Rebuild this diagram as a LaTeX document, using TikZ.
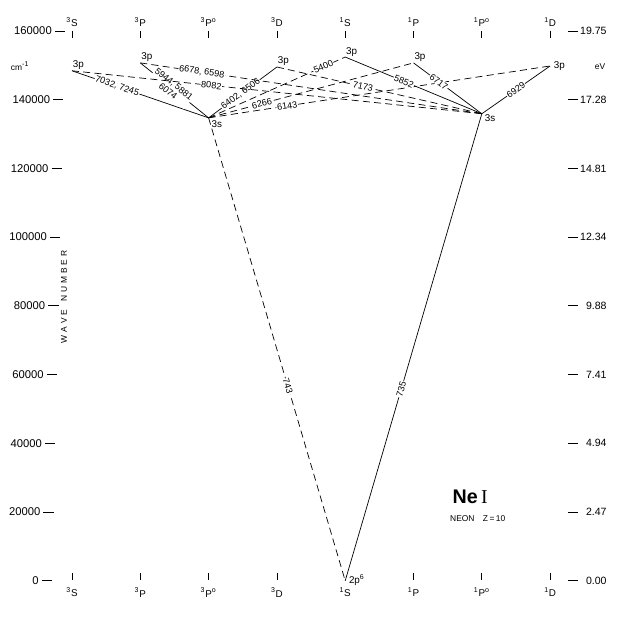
\documentclass[tikz,border=0pt]{standalone}
\usepackage{fontspec}
\setmainfont{Liberation Sans}
\newfontfamily\romanfont{Liberation Serif}

\begin{document}
\begin{tikzpicture}[x=1.7075cm, y=0.0859cm,
    allowed/.style={line width=0.5pt},
    forbidden/.style={line width=0.5pt, dash pattern=on 5pt off 3pt},
    wavelen/.style={sloped, fill=white, inner sep=0.5pt, font=\fontsize{6.5}{6.8}\selectfont},
    level/.style={inner sep=0.5pt, font=\fontsize{7}{8}\selectfont},
    term/.style={inner sep=0pt, font=\fontsize{7}{8}\selectfont},
    scalelab/.style={inner sep=0pt, font=\fontsize{7.5}{8}\selectfont}]

  \useasboundingbox (-1.054,-10.76) rectangle (8.14,169.0);

  % Term columns, top and bottom
  \foreach \t [count=\i from 0] in {{\textsuperscript{3}S}, {\textsuperscript{3}P}, {\textsuperscript{3}P\textsuperscript{o}}, {\textsuperscript{3}D}, {\textsuperscript{1}S}, {\textsuperscript{1}P}, {\textsuperscript{1}P\textsuperscript{o}}, {\textsuperscript{1}D}} {
    \node[term] (top\i) at (\i,162.6) {\t};
    \node[term] (bot\i) at (\i,-3.4) {\t};
    \draw[line width=0.5pt] (\i,160) -- (\i,158);
  }
  \foreach \i in {0,1,2,3,5,6,7}
    \draw[line width=0.5pt] (\i,2.3) -- (\i,0.3);

  % Wave number scale (left)
  \foreach \k/\lab in {0/0, 20/20000, 40/40000, 60/60000, 80/80000, 100/100000, 120/120000, 140/140000, 160/160000} {
    \pgfmathsetmacro{\xe}{-0.293+0.191*\k/160}
    \draw[line width=0.5pt] (\xe-0.15,\k) -- (\xe,\k);
    \node[scalelab, anchor=east, font=\fontsize{8}{8}\selectfont] (cm\k) at (\xe-0.19,\k) {\lab};
  }
  \node[scalelab, font=\fontsize{6}{6}\selectfont] (cmunit) at (-0.76,149.8) {cm\textsuperscript{-1}};
  \node[scalelab, rotate=90, font=\fontsize{6}{6}\selectfont] (wavenum) at (-0.117,82.6) {W\,\,A\,\,V\,\,E\quad N\,\,U\,\,M\,\,B\,\,E\,\,R};

  % Energy scale (right)
  \foreach \k/\lab in {0/0.00, 20/2.47, 40/4.94, 60/7.41, 80/9.88, 100/12.34, 120/14.81, 140/17.28, 160/19.75} {
    \draw[line width=0.5pt] (7.26,\k) -- (7.41,\k);
    \node[scalelab, anchor=east] (ev\k) at (7.83,\k) {\lab};
  }
  \node[scalelab, font=\fontsize{6}{6}\selectfont] (evunit) at (7.73,149.5) {eV};

  % Levels
  \coordinate (gnd) at (4,0);
  \coordinate (s3) at (2,134.7);
  \coordinate (s1) at (6,135.9);
  \coordinate (p3S) at (0,148.4);
  \coordinate (p3P) at (1,150.7);
  \coordinate (p3D) at (3,149.5);
  \coordinate (p1S) at (4,152.4);
  \coordinate (p1P) at (5,150.7);
  \coordinate (p1D) at (7,149.8);

  % Transitions to 3s (3P)
  \draw[allowed] (p3S) -- node[wavelen, pos=0.33] {7032, 7245} (s3);
  \draw[allowed] (p3P) -- node[wavelen, pos=0.45, align=center] {5944, 5881\\6074} (s3);
  \draw[allowed] (s3) -- node[wavelen, pos=0.47] {6402, 6506} (p3D);
  \draw[forbidden] (s3) -- node[wavelen, pos=0.84] {5400} (p1S);
  \draw[forbidden] (s3) -- node[wavelen, pos=0.26] {6266} (p1P);
  \draw[forbidden] (s3) -- node[wavelen, pos=0.23] {6143} (p1D);

  % Transitions to 3s (1P)
  \draw[forbidden] (p3S) -- node[wavelen, pos=0.34] {8082} (s1);
  \draw[forbidden] (p3P) -- node[wavelen, pos=0.18] {6678, 6598} (s1);
  \draw[forbidden] (p3D) -- node[wavelen, pos=0.42] {7173} (s1);
  \draw[allowed] (p1S) -- node[wavelen, pos=0.43] {5852} (s1);
  \draw[allowed] (p1P) -- node[wavelen, pos=0.37] {6717} (s1);
  \draw[allowed] (s1) -- node[wavelen, pos=0.5] {6929} (p1D);

  % Resonance lines
  \draw[forbidden] (s3) -- node[wavelen, pos=0.58] {743} (gnd);
  \draw[allowed] (s1) -- node[wavelen, pos=0.59] {735} (gnd);

  % Level labels
  \node[level, anchor=south west] (l3S) at (p3S) {3p};
  \node[level, anchor=south west] (l3P) at (p3P) {3p};
  \node[level, anchor=south west] (l3D) at (p3D) {3p};
  \node[level, anchor=south west] (l1S) at (p1S) {3p};
  \node[level, anchor=south west] (l1P) at (p1P) {3p};
  \node[level, anchor=west, xshift=2pt] (l1D) at (p1D) {3p};
  \node[level, anchor=north west, xshift=1.5pt, yshift=-1pt] (ls3) at (s3) {3s};
  \node[level, anchor=north west, xshift=1.5pt] (ls1) at (s1) {3s};
  \node[level, anchor=south west, xshift=2pt, yshift=-4pt] (lg) at (gnd) {2p\textsuperscript{6}};

  % Title
  \node[font=\fontsize{14}{14}\selectfont\bfseries] (title) at (5.83,24.4) {Ne\,{\romanfont\mdseries I}};
  \node[font=\fontsize{6}{6}\selectfont] (subtitle) at (5.94,18.0) {NEON\quad Z\,=\,10};
\end{tikzpicture}
\end{document}
